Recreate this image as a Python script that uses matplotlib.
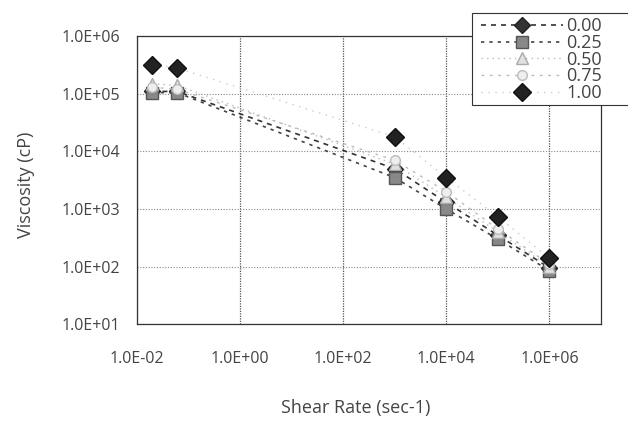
import numpy as np
import matplotlib.pyplot as plt
from matplotlib.patches import Rectangle
from matplotlib.ticker import FixedLocator, NullLocator, FuncFormatter

# shear rate (sec-1) and viscosity (cP) for each fraction
shear_rate = [0.02, 0.06, 1000, 10000, 100000, 1000000]
labels = ['0.00', '0.25', '0.50', '0.75', '1.00']
visc_000 = [1.1e5, 1.1e5, 5.0e3, 1.3e3, 350, 95]
visc_025 = [1.05e5, 1.05e5, 3.5e3, 1.0e3, 300, 85]
visc_050 = [1.5e5, 1.4e5, 6.0e3, 1.6e3, 400, 100]
visc_075 = [1.3e5, 1.2e5, 7.0e3, 2.0e3, 450, 110]
visc_100 = [3.2e5, 2.8e5, 1.8e4, 3.5e3, 730, 140]
x_ticks = [1e-2, 1e0, 1e2, 1e4, 1e6]
y_ticks = [1e1, 1e2, 1e3, 1e4, 1e5, 1e6]

plt.rcParams['font.family'] = ['Open Sans', 'DejaVu Sans']

fig = plt.figure(figsize=(6.28, 4.21), dpi=100)
ax = fig.add_axes([0.218, 0.230, 0.739, 0.684])

styles = [
    dict(color='#333333', ls=(0, (3, 3)), lw=1.2, marker='D', ms=8, mfc='#333333', mec='#222222'),
    dict(color='#444444', ls=(0, (2, 3)), lw=1.2, marker='s', ms=8, mfc='#888888', mec='#555555'),
    dict(color='#bbbbbb', ls=(0, (1, 3)), lw=1.0, marker='^', ms=8, mfc='#e0e0e0', mec='#aaaaaa'),
    dict(color='#bbbbbb', ls=(0, (2, 4)), lw=1.0, marker='o', ms=7, mfc='#eeeeee', mec='#bbbbbb'),
    dict(color='#cccccc', ls=(0, (1, 4)), lw=1.0, marker='D', ms=9, mfc='#222222', mec='#111111'),
]
series = [visc_000, visc_025, visc_050, visc_075, visc_100]
for vals, lab, st in zip(series, labels, styles):
    ax.plot(shear_rate, vals, label=lab, **st)

ax.set_xscale('log')
ax.set_yscale('log')
ax.set_xlim(1e-2, 1e7)
ax.set_ylim(1e1, 1e6)
ax.xaxis.set_major_locator(FixedLocator(x_ticks))
ax.yaxis.set_major_locator(FixedLocator(y_ticks))
ax.xaxis.set_minor_locator(NullLocator())
ax.yaxis.set_minor_locator(NullLocator())

fmt = FuncFormatter(lambda v, p: '1.0E%+03d' % int(round(np.log10(v))))
ax.xaxis.set_major_formatter(fmt)
ax.yaxis.set_major_formatter(fmt)
ax.tick_params(axis='both', length=0, labelsize=11.5, colors='#444444')
ax.tick_params(axis='x', pad=19)
ax.tick_params(axis='y', pad=12)

ax.grid(axis='y', color='#888888', ls=(0, (1, 1.5)), lw=0.8)
ax.grid(axis='x', color='#555555', ls=(0, (1, 1)), lw=0.9)
for s in ax.spines.values():
    s.set_color('#333333')
    s.set_linewidth(0.9)

fig.text(0.042, 0.56, 'Viscosity (cP)', fontsize=13, color='#444444',
         rotation=90, ha='center', va='center')
fig.text(0.566, 0.031, 'Shear Rate (sec-1)', fontsize=13, color='#444444',
         ha='center', va='center')

# legend box runs past the right edge of the figure
box = Rectangle((0.752, 0.750), 0.30, 0.219, transform=fig.transFigure,
                facecolor='white', edgecolor='#333333', lw=0.8, clip_on=False, zorder=4)
ax.add_patch(box)
leg = ax.legend(loc='upper left', bbox_to_anchor=(0.758, 0.972), bbox_transform=fig.transFigure,
                fontsize=13, handlelength=4.5, frameon=False,
                borderpad=0.3, labelspacing=-0.07, handletextpad=0.2, borderaxespad=0)
for t in leg.get_texts():
    t.set_color('#444444')
leg.set_zorder(5)

fig.savefig('out.png', dpi=100)
